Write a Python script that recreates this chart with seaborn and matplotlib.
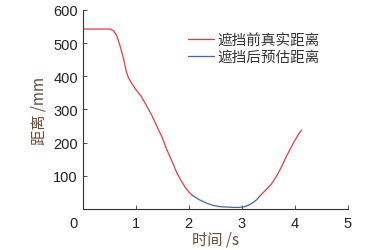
import numpy as np
import pandas as pd
import matplotlib
matplotlib.use('Agg')
import matplotlib.pyplot as plt
import matplotlib.transforms as mtransforms
import seaborn as sns

# values
t_red1 = [0.0, 0.2, 0.4, 0.51, 0.58, 0.64, 0.69, 0.74, 0.78, 0.82, 0.86, 0.9, 0.95, 0.99, 1.1, 1.2, 1.3,
          1.39, 1.5, 1.58, 1.68, 1.77, 1.85, 1.93, 2.0, 2.07]
d_red1 = [542, 542, 542, 542, 537, 522, 498, 470, 445, 414, 396, 384, 372, 362, 340, 312, 283,
          252, 215, 181, 145, 111, 87, 66, 52, 41]
t_blue = [2.07, 2.2, 2.35, 2.46, 2.6, 2.75, 2.84, 2.95, 3.05, 3.12, 3.2, 3.28, 3.34]
d_blue = [41, 28, 17, 11, 7, 6, 5, 5, 7, 11, 18, 28, 39]
t_red2 = [3.34, 3.45, 3.55, 3.65, 3.75, 3.85, 3.95, 4.0, 4.07, 4.13]
d_red2 = [39, 57, 73, 97, 127, 161, 191, 206, 225, 238]

red = '#e8383d'
blue = '#3b68b5'
cjk = ['Noto Sans CJK SC', 'DejaVu Sans']

sns.set_style('white')
plt.rcParams['font.family'] = ['Liberation Sans', 'Noto Sans CJK SC', 'DejaVu Sans']

fig = plt.figure(figsize=(3.8, 2.51), dpi=100)
ax = fig.add_axes([0.218, 0.163, 0.697, 0.794])

df1 = pd.DataFrame({'t': t_red1, 'd': d_red1})
df2 = pd.DataFrame({'t': t_blue, 'd': d_blue})
df3 = pd.DataFrame({'t': t_red2, 'd': d_red2})

sns.lineplot(data=df1, x='t', y='d', ax=ax, color=red, lw=0.9, label='遮挡前真实距离')
sns.lineplot(data=df2, x='t', y='d', ax=ax, color=blue, lw=0.9, label='遮挡后预估距离')
sns.lineplot(data=df3, x='t', y='d', ax=ax, color=red, lw=0.9)

ax.set_xlim(0, 5)
ax.set_ylim(0, 600)
ax.set_xticks([0, 1, 2, 3, 4, 5])
ax.set_yticks([100, 200, 300, 400, 500, 600])
for s in ['top', 'right']:
    ax.spines[s].set_visible(False)
for s in ['left', 'bottom']:
    ax.spines[s].set_color('#333333')
    ax.spines[s].set_linewidth(0.8)
ax.tick_params(direction='in', length=3, width=0.6, colors='#333333',
               labelsize=10.5, labelcolor='#222222', bottom=True, left=True)
ax.tick_params(axis='x', pad=5)

# the "0" label sits a little left of the origin in the original
lbl0 = ax.get_xticklabels()[0]
lbl0.set_transform(lbl0.get_transform() + mtransforms.ScaledTranslation(-0.09, 0, fig.dpi_scale_trans))

ax.set_xlabel('时间 /s', fontsize=11, color='#6b4a3a', labelpad=0, family=cjk)
ax.set_ylabel('距离 /mm', fontsize=11, color='#6b4a3a', labelpad=4, family=cjk)

leg = ax.legend(loc='upper left', bbox_to_anchor=(0.397, 0.885), frameon=False,
                borderpad=0, borderaxespad=0,
                handlelength=1.75, handletextpad=0.3, labelspacing=0.2,
                prop={'family': cjk, 'size': 10.5})
for txt in leg.get_texts():
    txt.set_color('#333333')

fig.savefig('out.png', dpi=100)
plt.close()
